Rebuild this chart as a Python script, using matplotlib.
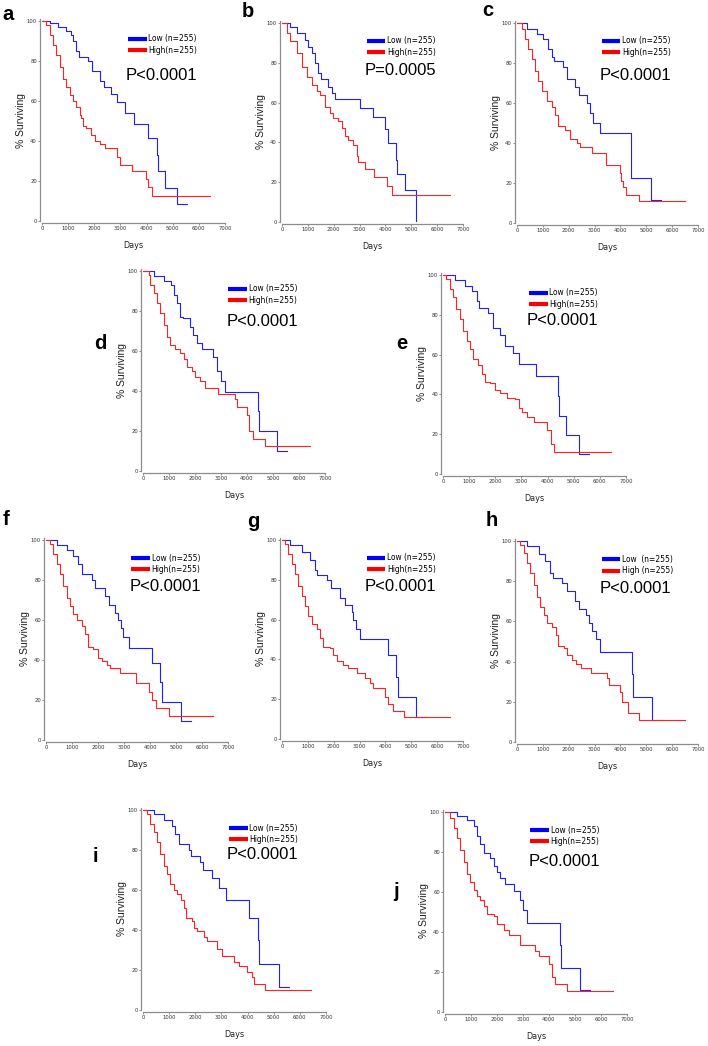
import matplotlib

matplotlib.use("Agg")
import matplotlib.pyplot as plt


# (days, % surviving) at each step of the Kaplan-Meier curves
A_LOW_T = [0, 300, 600, 900, 1120, 1200, 1300, 1400, 1760, 1915, 2210, 2375, 2655, 2875, 3165, 3525, 4060, 4380, 4430, 4700, 5145, 5555]
A_LOW_S = [100, 99, 97, 95, 93, 90, 85, 82, 80, 75, 70, 67, 63.5, 59.5, 54, 48.5, 41.5, 33, 25, 16.5, 8.5, 8.5]
A_HIGH_T = [0, 165, 295, 420, 550, 675, 805, 930, 1060, 1190, 1315, 1440, 1510, 1570, 1700, 1890, 2020, 2210, 2400, 2850, 2975, 3460, 3960, 4060, 4225, 6420]
A_HIGH_S = [100, 98, 93, 88, 83, 77, 71, 67, 63, 60, 57, 53, 51.5, 47.5, 46.5, 43, 40, 38.4, 36.5, 32, 28.2, 25, 21, 17, 12.5, 12.5]

B_LOW_T = [0, 310, 565, 890, 1015, 1145, 1275, 1400, 1495, 1790, 1915, 2045, 3010, 3500, 4000, 4105, 4427, 4465, 4750, 5200]
B_LOW_S = [100, 98, 95, 91.5, 88, 85, 80, 75, 72, 68, 65, 62, 57.5, 52.7, 46.5, 39.5, 31, 24, 16, 0]
B_HIGH_T = [0, 180, 310, 565, 760, 950, 1145, 1340, 1465, 1660, 1850, 1980, 2175, 2305, 2430, 2560, 2755, 2885, 2920, 3205, 3550, 4080, 4260, 6485]
B_HIGH_S = [100, 95, 91, 85, 78, 73, 69, 66, 64, 58, 55, 52.5, 51, 47, 43, 41, 38.5, 33, 30, 26.5, 22.5, 18, 13.5, 13.5]

C_LOW_T = [0, 375, 760, 1015, 1210, 1340, 1430, 1790, 1920, 2240, 2394, 2700, 2830, 2950, 3205, 4427, 5200, 5585]
C_LOW_S = [100, 97, 94.5, 92, 87, 83, 81, 78, 72, 68, 64, 60, 55, 50, 45, 22.5, 11.3, 11.3]
C_HIGH_T = [0, 180, 310, 440, 565, 695, 825, 950, 1145, 1340, 1465, 1595, 1855, 2045, 2305, 2430, 2885, 3460, 3975, 4040, 4100, 4200, 4710, 6485]
C_HIGH_S = [100, 97, 92, 87, 82, 76, 71, 66, 61, 58, 54, 48.5, 46.5, 42, 40, 38, 35, 29, 25, 21, 18, 14, 11, 11]

D_LOW_T = [0, 410, 790, 1085, 1175, 1300, 1430, 1530, 1810, 1940, 2070, 2260, 2700, 2850, 2990, 3150, 4405, 4445, 5170, 5555]
D_LOW_S = [100, 97.5, 95, 93, 88, 84, 77, 76.5, 72, 68, 64, 61, 57, 50, 45, 39.5, 30, 20, 10, 10]
D_HIGH_T = [0, 215, 280, 410, 535, 665, 790, 920, 1045, 1240, 1430, 1560, 1685, 1875, 2005, 2195, 2390, 2900, 3540, 3600, 3985, 4080, 4240, 4690, 6435]
D_HIGH_S = [100, 98, 93, 89, 84, 79, 73, 67, 63, 61, 59, 56, 52, 50, 47, 45, 41.5, 38.5, 36, 32, 28, 20, 16, 12.5, 12.5]

E_LOW_T = [0, 450, 840, 1095, 1290, 1380, 1740, 1895, 2190, 2385, 2670, 2900, 3545, 4408, 4447, 4705, 5195, 5580]
E_LOW_S = [100, 97.5, 94.5, 92, 87, 83.5, 81, 73.5, 70, 64.5, 61, 55.5, 49, 39, 29, 19.5, 10, 10]
E_HIGH_T = [0, 130, 260, 385, 515, 645, 775, 900, 1030, 1160, 1355, 1480, 1610, 1805, 2000, 2190, 2450, 2770, 2900, 3030, 3225, 3480, 3995, 4125, 4255, 6445]
E_HIGH_S = [100, 98, 93, 89, 83, 78, 72, 67, 63, 58, 55, 50, 46, 45.5, 42, 40.5, 38, 37.5, 33, 31, 28.5, 26, 22, 15, 11, 11]

F_LOW_T = [0, 410, 795, 1050, 1240, 1370, 1755, 1880, 2265, 2420, 2650, 2780, 2900, 2970, 3200, 4058, 4378, 4467, 5184, 5568]
F_LOW_S = [100, 97.5, 95, 92, 88, 83, 80, 76, 72, 67.5, 63.5, 60, 56, 51.5, 46, 38.5, 29, 19, 9.5, 9.5]
F_HIGH_T = [0, 155, 280, 410, 540, 665, 795, 920, 1050, 1180, 1370, 1500, 1625, 1820, 2010, 2140, 2330, 2460, 2840, 3480, 3970, 4060, 4225, 4735, 6425]
F_HIGH_S = [100, 98, 93, 88, 83, 77, 71, 67, 63, 60, 57, 53, 46.5, 45.5, 41, 39.5, 37.5, 36, 33.5, 28.5, 24, 20, 16, 12, 12]

G_LOW_T = [0, 310, 760, 1080, 1275, 1365, 1725, 1900, 2240, 2432, 2690, 2754, 2880, 3011, 4105, 4427, 4492, 5199, 5585]
G_LOW_S = [100, 97.5, 94, 90, 85, 82.5, 80, 76, 71, 67.5, 64, 60, 55.5, 50.5, 42, 31, 21, 11, 11]
G_HIGH_T = [0, 115, 245, 375, 500, 630, 760, 890, 1015, 1145, 1340, 1465, 1595, 1855, 1980, 2110, 2370, 2560, 2885, 3205, 3400, 3525, 3975, 4105, 4300, 4725, 6485]
G_HIGH_S = [100, 98, 93, 88, 83, 77, 72, 67, 62, 58, 55.5, 51, 46, 45.5, 42, 39, 37, 35.5, 33, 30.5, 28, 25.5, 21, 17.5, 14, 11, 11]

H_LOW_T = [0, 390, 840, 1100, 1295, 1400, 1750, 1945, 2230, 2400, 2660, 2800, 2890, 3045, 3215, 4445, 4497, 5210, 5610]
H_LOW_S = [100, 97.5, 93.5, 90, 84, 81.5, 79, 75, 70, 66, 63, 59, 55, 51, 45, 34, 22.5, 11, 11]
H_HIGH_T = [0, 130, 260, 390, 520, 650, 780, 905, 1035, 1165, 1360, 1490, 1580, 1815, 1945, 2140, 2270, 2460, 2850, 3475, 3560, 3990, 4060, 4275, 4730, 6505]
H_HIGH_S = [100, 98, 94, 89, 84, 78, 72, 67, 63, 59, 57, 53, 48, 47, 43.5, 41, 39, 37, 34.5, 32, 28.5, 25, 20, 14.5, 11, 11]

I_LOW_T = [0, 410, 790, 1110, 1235, 1365, 1745, 1835, 2190, 2300, 2640, 2890, 3190, 4040, 4385, 4435, 5190, 5570]
I_LOW_S = [100, 98, 95, 92, 88, 83, 80, 77, 74, 70, 66, 61, 55, 46, 35, 23, 11.5, 11.5]
I_HIGH_T = [0, 155, 280, 410, 535, 665, 790, 920, 1045, 1175, 1300, 1455, 1555, 1645, 1875, 1965, 2065, 2320, 2450, 2830, 3020, 3470, 3660, 3980, 4170, 4230, 4680, 6425]
I_HIGH_S = [100, 98, 93, 89, 84, 78, 72, 68, 63, 60, 58, 55, 51, 46, 44.5, 41, 39.5, 36.5, 34.5, 30.5, 27, 24, 22, 19, 16.5, 13, 10, 10]

J_LOW_T = [0, 460, 845, 1100, 1230, 1360, 1485, 1745, 1870, 2000, 2130, 2320, 2640, 2900, 3000, 3155, 4410, 4460, 5180, 5565]
J_LOW_S = [100, 98, 96, 93, 88, 84, 79.5, 77, 73, 70, 67, 64, 60.5, 56, 51, 44.5, 33.5, 22, 11, 11]
J_HIGH_T = [0, 205, 335, 460, 590, 720, 845, 975, 1100, 1230, 1360, 1485, 1615, 1870, 2000, 2255, 2450, 2870, 3475, 3600, 3985, 4115, 4245, 4690, 6460]
J_HIGH_S = [100, 97, 92, 87, 81, 75, 69, 65, 61, 58, 56, 53, 49, 48, 44, 41, 38.5, 33.5, 30.5, 28, 24, 17.5, 14, 10.5, 10.5]

PANEL_LABELS = ["a", "b", "c", "d", "e", "f", "g", "h", "i", "j"]
P_VALUES = ["P<0.0001", "P=0.0005", "P<0.0001", "P<0.0001", "P<0.0001",
            "P<0.0001", "P<0.0001", "P<0.0001", "P<0.0001", "P<0.0001"]
LOW_LABELS = ["Low (n=255)"] * 7 + ["Low  (n=255)"] + ["Low (n=255)"] * 2
HIGH_LABELS = ["High(n=255)"] * 7 + ["High (n=255)"] + ["High(n=255)"] * 2
X_TICKS = [0, 1000, 2000, 3000, 4000, 5000, 6000, 7000]
Y_TICKS = [0, 20, 40, 60, 80, 100]

# layout in pixels of the 708x1046 image: axes box (left, top, width, height),
# panel letter position, y of the P value text
AXES_BOX = [(42, 19, 183, 202), (282, 21, 181, 201), (517, 21, 181, 202),
            (143, 269, 182, 202), (443, 273, 183, 201),
            (46, 538, 182, 202), (282, 538, 181, 201), (517, 539, 181, 203),
            (143, 808, 183, 202), (445, 810, 182, 202)]
LETTER_XY = [(2, 20), (242, 17), (482, 16), (94, 349), (396, 349),
             (3, 525), (247, 527), (486, 526), (93, 862), (393, 897)]
P_Y = [72.5, 76, 74, 74.5, 77, 76.6, 76.5, 76.6, 77.7, 75.2]

W, H = 708, 1046
BLUE = "#1f1fff"
RED = "#ff2222"
SPINE = "#8c8c8c"
NARROW = ["Liberation Sans Narrow", "DejaVu Sans"]


def draw_panel(fig, idx, low, high):
    left, top, w, h = AXES_BOX[idx]
    ax = fig.add_axes([left / W, 1 - (top + h) / H, w / W, h / H])
    ax.step(low[0], low[1], where="post", color=BLUE, lw=0.8)
    ax.step(high[0], high[1], where="post", color=RED, lw=0.8)
    ax.set_xlim(0, 7000)
    ax.set_ylim(0, 101)
    for side in ("top", "right"):
        ax.spines[side].set_visible(False)
    for side in ("left", "bottom"):
        ax.spines[side].set_color(SPINE)
        ax.spines[side].set_linewidth(0.9)
        ax.spines[side].set_position(("outward", 1.5))
    ax.set_xticks(X_TICKS)
    ax.set_yticks(Y_TICKS)
    ax.tick_params(length=1.5, width=0.7, color=SPINE, pad=0.6, labelsize=4.2, labelcolor="#333333")
    for lab in ax.get_xticklabels() + ax.get_yticklabels():
        lab.set_family(NARROW)
        lab.set_stretch("condensed")
    ax.set_xlabel("Days", fontsize=6.5, family=NARROW, stretch="condensed", labelpad=7, color="#222222")
    ax.set_ylabel("% Surviving", fontsize=7.5, family="Liberation Sans", color="#222222")
    ax.yaxis.set_label_coords(-16 / w, 0.5)

    # hand-made legend
    ax.plot([3280, 4000], [91, 91], color="blue", lw=3, solid_capstyle="butt")
    ax.plot([3280, 4000], [85.3, 85.3], color="red", lw=3, solid_capstyle="butt")
    ax.text(4060, 91, LOW_LABELS[idx], fontsize=6, family=NARROW, stretch="condensed", va="center")
    ax.text(4060, 85.3, HIGH_LABELS[idx], fontsize=6, family=NARROW, stretch="condensed", va="center")
    ax.text(3200, P_Y[idx], P_VALUES[idx], fontsize=12, family="Liberation Sans", va="center")

    lx, ly = LETTER_XY[idx]
    fig.text(lx / W, 1 - ly / H, PANEL_LABELS[idx], fontsize=14.5, fontweight="bold",
             family="Liberation Sans", va="baseline")
    return ax


def main():
    fig = plt.figure(figsize=(W / 100, H / 100), dpi=100)
    curves = [
        ((A_LOW_T, A_LOW_S), (A_HIGH_T, A_HIGH_S)),
        ((B_LOW_T, B_LOW_S), (B_HIGH_T, B_HIGH_S)),
        ((C_LOW_T, C_LOW_S), (C_HIGH_T, C_HIGH_S)),
        ((D_LOW_T, D_LOW_S), (D_HIGH_T, D_HIGH_S)),
        ((E_LOW_T, E_LOW_S), (E_HIGH_T, E_HIGH_S)),
        ((F_LOW_T, F_LOW_S), (F_HIGH_T, F_HIGH_S)),
        ((G_LOW_T, G_LOW_S), (G_HIGH_T, G_HIGH_S)),
        ((H_LOW_T, H_LOW_S), (H_HIGH_T, H_HIGH_S)),
        ((I_LOW_T, I_LOW_S), (I_HIGH_T, I_HIGH_S)),
        ((J_LOW_T, J_LOW_S), (J_HIGH_T, J_HIGH_S)),
    ]
    for idx, (low, high) in enumerate(curves):
        draw_panel(fig, idx, low, high)
    fig.savefig("out.png", dpi=100)
    plt.close(fig)


if __name__ == "__main__":
    main()
